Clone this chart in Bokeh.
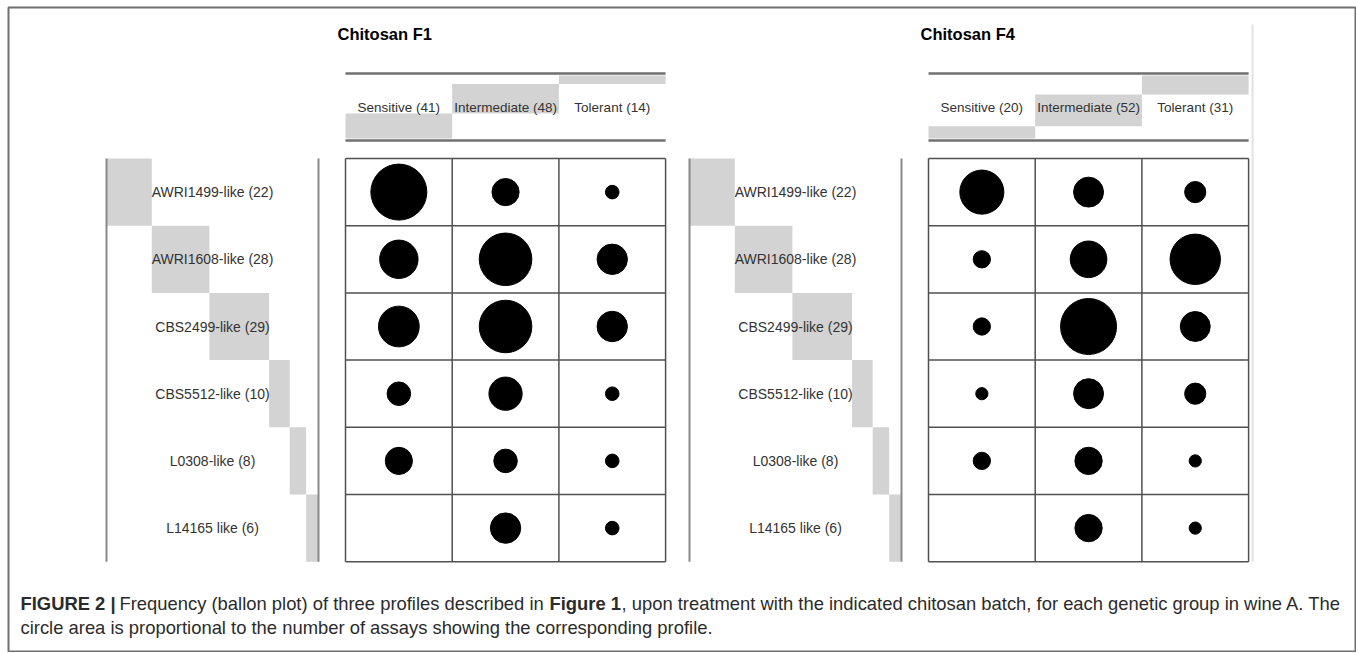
import numpy as np
from bokeh.plotting import figure
from bokeh.models import Range1d, ColumnDataSource
from bokeh.core.properties import value
from bokeh.embed import file_html
from bokeh.resources import INLINE

# ---------------- data ----------------
groups = ["AWRI1499-like", "AWRI1608-like", "CBS2499-like", "CBS5512-like", "L0308-like", "L14165 like"]
profiles = ["Sensitive", "Intermediate", "Tolerant"]
panel_titles = ["Chitosan F1", "Chitosan F4"]

f1_sensitive = [17, 8, 9, 3, 4, 0]
f1_intermediate = [4, 15, 15, 6, 3, 5]
f1_tolerant = [1, 5, 5, 1, 1, 1]

f4_sensitive = [13, 2, 2, 1, 2, 0]
f4_intermediate = [6, 9, 21, 6, 5, 5]
f4_tolerant = [3, 17, 6, 3, 1, 1]

caption_bold_1 = "FIGURE 2 |"
caption_text_1 = "Frequency (ballon plot) of three profiles described in"
caption_bold_2 = "Figure 1"
caption_text_2 = ", upon treatment with the indicated chitosan batch, for each genetic group in wine A. The"
caption_line_2 = "circle area is proportional to the number of assays showing the corresponding profile."

# ---------------- layout ----------------
W, H = 1356, 652
FONT = "Liberation Sans"
GRAY = "#d3d3d3"

p = figure(width=W, height=H, x_range=Range1d(0, W), y_range=Range1d(H, 0),
           toolbar_location=None, output_backend="svg", min_border=0,
           x_axis_location=None, y_axis_location=None)
p.xgrid.visible = False
p.ygrid.visible = False
p.outline_line_color = None
p.background_fill_color = "white"
p.border_fill_color = "white"

# outer frame of the figure panel
p.quad(left=[8], right=[W - 1], top=[7], bottom=[H - 1],
       fill_color=None, line_color="#6e6e6e", line_width=2)

panels = [
    np.array([f1_sensitive, f1_intermediate, f1_tolerant]).T,
    np.array([f4_sensitive, f4_intermediate, f4_tolerant]).T,
]

PANEL_DX = 583
for k, counts in enumerate(panels):
    off = k * PANEL_DX
    lx0, lx1 = 106 + off, 318 + off
    cw = 106.7
    gx0 = 345 + off
    gx1 = gx0 + 3 * cw
    rh = 67.2
    gy0 = 158
    gy1 = gy0 + 6 * rh
    hy0, hy1 = 73, 140

    row_tot = counts.sum(axis=1)
    col_tot = counts.sum(axis=0)
    total = counts.sum()
    nrow, ncol = counts.shape

    # left marginal staircase
    rcum = np.concatenate([[0], np.cumsum(row_tot)]) / total
    p.quad(left=lx0 + (lx1 - lx0) * rcum[:-1], right=lx0 + (lx1 - lx0) * rcum[1:],
           top=gy0 + np.arange(nrow) * rh, bottom=gy0 + (np.arange(nrow) + 1) * rh,
           fill_color=GRAY, line_color=None)
    # top marginal staircase
    ccum = np.concatenate([[0], np.cumsum(col_tot)]) / total
    hh0, hh1 = hy0 + 2, hy1 - 2
    p.quad(left=gx0 + np.arange(ncol) * cw, right=gx0 + (np.arange(ncol) + 1) * cw,
           bottom=hh1 - (hh1 - hh0) * ccum[:-1], top=hh1 - (hh1 - hh0) * ccum[1:],
           fill_color=GRAY, line_color=None)

    # label column lines
    p.segment(x0=[lx0, lx1], y0=[gy0, gy0], x1=[lx0, lx1], y1=[gy1, gy1],
              line_color="#8a8a8a", line_width=2)
    # header lines
    p.segment(x0=[gx0, gx0], y0=[hy0, hy1], x1=[gx1, gx1], y1=[hy0, hy1],
              line_color="#707070", line_width=2.5)
    # grid
    vx = gx0 + np.arange(ncol + 1) * cw
    hy = gy0 + np.arange(nrow + 1) * rh
    p.segment(x0=vx, y0=[gy0] * len(vx), x1=vx, y1=[gy1] * len(vx),
              line_color="#505050", line_width=1.5)
    p.segment(x0=[gx0] * len(hy), y0=hy, x1=[gx1] * len(hy), y1=hy,
              line_color="#505050", line_width=1.5)
    if k == 1:
        p.segment(x0=[gx1 + 4], y0=[24], x1=[gx1 + 4], y1=[gy1],
                  line_color="#e2e2e2", line_width=2)

    # balloons (area proportional to count)
    ii, jj = np.nonzero(counts)
    vals = counts[ii, jj]
    src = ColumnDataSource(dict(x=gx0 + (jj + 0.5) * cw, y=gy0 + (ii + 0.5) * rh,
                                s=56 * np.sqrt(vals / counts.max())))
    p.scatter("x", "y", size="s", source=src, marker="circle",
              fill_color="black", line_color="black")

    # header texts
    p.text(x=gx0 + (np.arange(ncol) + 0.5) * cw, y=[(hy0 + hy1) / 2] * ncol,
           text=[f"{pr} ({c})" for pr, c in zip(profiles, col_tot)],
           text_font=value(FONT), text_font_size="13.5px", text_color="#333333",
           text_align="center", text_baseline="middle")
    # row labels
    p.text(x=[(lx0 + lx1) / 2] * nrow, y=gy0 + (np.arange(nrow) + 0.5) * rh,
           text=[f"{g} ({c})" for g, c in zip(groups, row_tot)],
           text_font=value(FONT), text_font_size="14px", text_color="#333333",
           text_align="center", text_baseline="middle")
    # title
    p.text(x=[gx0 - 8], y=[33], text=[panel_titles[k]],
           text_font=value(FONT), text_font_size="16.5px", text_font_style="bold",
           text_color="black", text_align="left", text_baseline="middle")

# caption
cy1, cy2 = 603, 627
cap_kw = dict(text_font=value(FONT), text_font_size="18.4px", text_color="#2b2b2b",
              text_align="left", text_baseline="middle")
p.text(x=[20], y=[cy1], text=[caption_bold_1], text_font_style="bold", **cap_kw)
p.text(x=[119], y=[cy1], text=[caption_text_1], **cap_kw)
p.text(x=[549], y=[cy1], text=[caption_bold_2], text_font_style="bold", **cap_kw)
p.text(x=[621], y=[cy1], text=[caption_text_2], **cap_kw)
p.text(x=[20], y=[cy2], text=[caption_line_2], **cap_kw)

open("out.html", "w").write(file_html(p, INLINE))
